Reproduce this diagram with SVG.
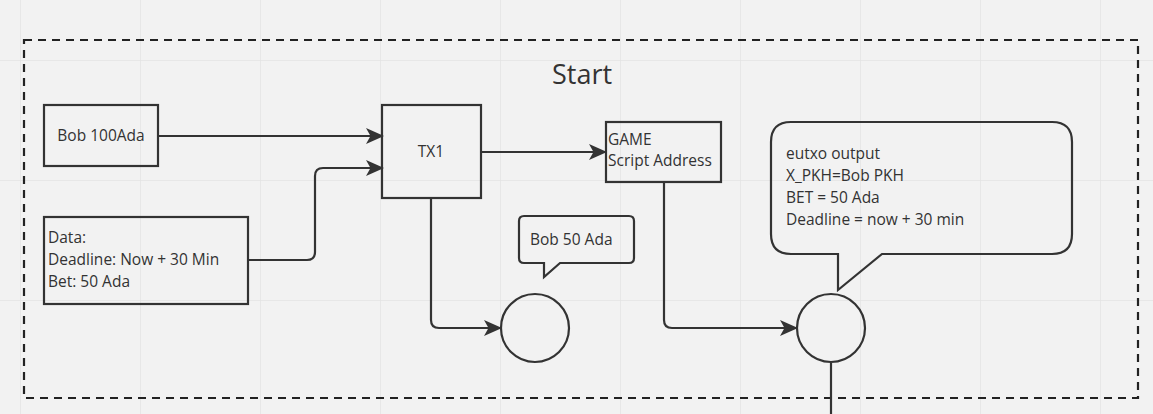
<svg xmlns="http://www.w3.org/2000/svg" width="1153" height="414" viewBox="0 0 1153 414">
<defs>
<pattern id="grid" x="20" y="60" width="120" height="120" patternUnits="userSpaceOnUse">
<path d="M0 0 V120 M0 0 H120" fill="none" stroke="#e4e4e4" stroke-width="1.5"/>
</pattern>
<marker id="arr" viewBox="0 0 18 16" refX="17" refY="8" markerWidth="18" markerHeight="16" markerUnits="userSpaceOnUse" orient="auto">
<path d="M0 0 L18 8 L0 16 L4.5 8 Z" fill="#333"/>
</marker>
<style>
.box{fill:none;stroke:#333;stroke-width:2.2}
.ln{fill:none;stroke:#333;stroke-width:2.2}
.t{font-family:"Open Sans","Noto Sans",sans-serif;font-size:15.5px;fill:#333}
</style>
</defs>
<rect width="1153" height="414" fill="#f2f2f2"/>
<rect width="1153" height="414" fill="url(#grid)"/>
<g id="frame">
<rect x="24" y="40" width="1114" height="358" fill="none" stroke="#222" stroke-width="2.2" stroke-dasharray="8 6"/>
<text x="582" y="84" text-anchor="middle" style="font-family:'Open Sans','Noto Sans',sans-serif;font-size:27px;fill:#333">Start</text>
</g>
<g id="connectors">
<path class="ln" d="M158 136 H383" marker-end="url(#arr)"/>
<path class="ln" d="M248 260 H307 Q315 260 315 252 V176 Q315 168 323 168 H383" marker-end="url(#arr)"/>
<path class="ln" d="M481 152 H606" marker-end="url(#arr)"/>
<path class="ln" d="M431 198 V320 Q431 328 439 328 H501" marker-end="url(#arr)"/>
<path class="ln" d="M664 182 V320 Q664 328 672 328 H797" marker-end="url(#arr)"/>
<path class="ln" d="M831 363 V414"/>
</g>
<g id="bob100">
<rect class="box" x="44" y="105" width="114" height="61"/>
<text class="t" x="101" y="141" text-anchor="middle">Bob 100Ada</text>
</g>
<g id="data">
<rect class="box" x="44" y="217" width="204" height="87"/>
<text class="t" x="48" y="243">Data:</text>
<text class="t" x="48" y="265">Deadline: Now + 30 Min</text>
<text class="t" x="48" y="287">Bet: 50 Ada</text>
</g>
<g id="tx1">
<rect class="box" x="382" y="105" width="99" height="93"/>
<text class="t" x="431" y="157" text-anchor="middle">TX1</text>
</g>
<g id="game">
<rect class="box" x="606" y="122" width="115" height="60"/>
<text class="t" x="608" y="145">GAME</text>
<text class="t" x="608" y="166">Script Address</text>
</g>
<g id="bob50">
<path class="box" d="M524 216 H629 Q634 216 634 221 V258 Q634 263 629 263 H560 L544 277 V263 H524 Q519 263 519 258 V221 Q519 216 524 216 Z"/>
<text class="t" x="530" y="245">Bob 50 Ada</text>
</g>
<g id="out1">
<circle class="box" cx="535" cy="328" r="34"/>
</g>
<g id="eutxo">
<path class="box" d="M791 122 H1052 Q1072 122 1072 142 V234 Q1072 254 1052 254 H882 L838 290 V254 H791 Q771 254 771 234 V142 Q771 122 791 122 Z"/>
<text class="t" x="786" y="159">eutxo output</text>
<text class="t" x="786" y="181">X_PKH=Bob PKH</text>
<text class="t" x="786" y="203">BET = 50 Ada</text>
<text class="t" x="786" y="225">Deadline = now + 30 min</text>
</g>
<g id="out2">
<circle class="box" cx="831" cy="328" r="34"/>
</g>
</svg>
